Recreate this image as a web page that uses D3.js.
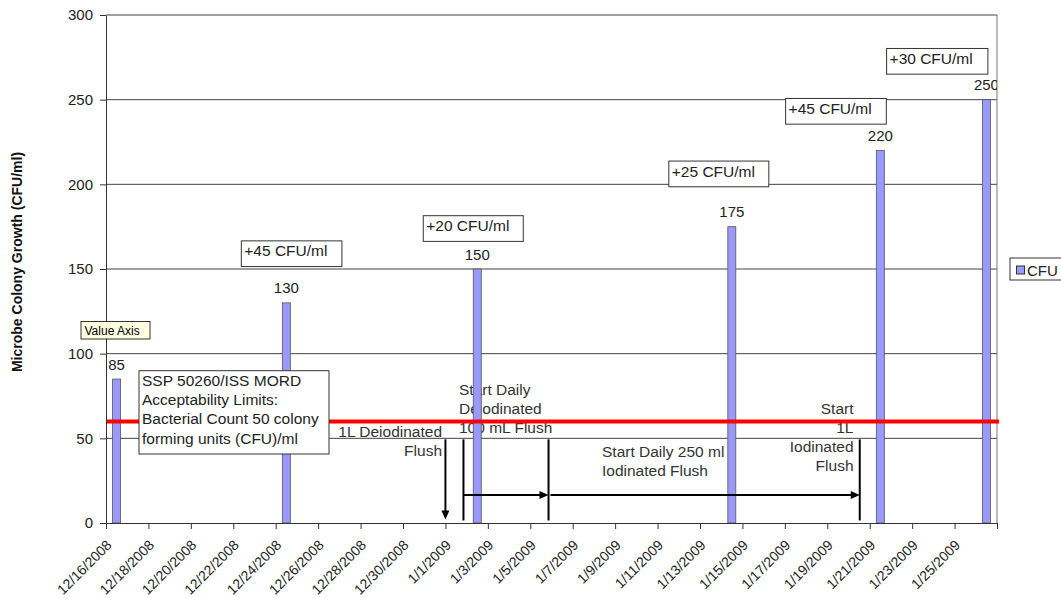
<!DOCTYPE html>
<html>
<head>
<meta charset="utf-8">
<script src="https://cdn.jsdelivr.net/npm/d3@7"></script>
<style>
  body { margin: 0; background: #fff; }
  text { font-family: "Liberation Sans", Arial, sans-serif; }
</style>
</head>
<body>
<script>
// chart values
var sampleDates = ["12/16/2008", "12/24/2008", "1/2/2009", "1/14/2009", "1/21/2009", "1/26/2009"];
var cfuValues = [85, 130, 150, 175, 220, 250];
var increments = [null, "+45 CFU/ml", "+20 CFU/ml", "+25 CFU/ml", "+45 CFU/ml", "+30 CFU/ml"];
var tickLabels = ["12/16/2008", "12/18/2008", "12/20/2008", "12/22/2008", "12/24/2008", "12/26/2008",
    "12/28/2008", "12/30/2008", "1/1/2009", "1/3/2009", "1/5/2009", "1/7/2009", "1/9/2009",
    "1/11/2009", "1/13/2009", "1/15/2009", "1/17/2009", "1/19/2009", "1/21/2009", "1/23/2009", "1/25/2009"];
var axisStart = "12/16/2008", axisEnd = "1/27/2009";
var yTicks = [0, 50, 100, 150, 200, 250, 300];
var limitValue = 60;
var limitText = ["SSP 50260/ISS MORD", "Acceptability Limits:", "Bacterial Count 50 colony", "forming units (CFU)/ml"];

var W = 1061, H = 598;
var margin = {left: 106, right: 64, top: 15, bottom: 75},
    width = W - margin.left - margin.right,
    height = H - margin.top - margin.bottom;

var parse = d3.utcParse("%m/%d/%Y");

var svg = d3.select("body").append("svg")
    .attr("width", W)
    .attr("height", H);

var g = svg.append("g")
    .attr("transform", "translate(" + margin.left + "," + margin.top + ")");

var x = d3.scaleUtc()
    .domain([parse(axisStart), parse(axisEnd)])
    .range([0, width]);

var y = d3.scaleLinear()
    .domain([0, 300])
    .range([height, 0]);

var day = x(d3.utcDay.offset(parse(axisStart), 1)) - x(parse(axisStart));
var dayX = function (n) { return x(parse(axisStart)) + n * day; };

svg.append("defs").append("clipPath").attr("id", "plotclip")
    .append("rect").attr("x", -1).attr("y", -20).attr("width", width + 1).attr("height", height + 20);

// gridlines
g.append("g").selectAll("line")
    .data(yTicks.slice(1))
    .enter().append("line")
    .attr("x1", 0).attr("x2", width)
    .attr("y1", function (d) { return y(d); })
    .attr("y2", function (d) { return y(d); })
    .attr("stroke", "#444")
    .attr("stroke-width", 1);

g.append("line")
    .attr("x1", width).attr("x2", width)
    .attr("y1", 0).attr("y2", height)
    .attr("stroke", "#777");

// free text annotations (drawn under bars)
var note = g.append("g")
    .attr("font-size", "15.5px")
    .attr("fill", "#333");

function lines(sel, arr, xx, y0, anchor) {
    arr.forEach(function (t, i) {
        sel.append("text")
            .attr("x", xx)
            .attr("y", y0 + i * 19)
            .attr("text-anchor", anchor)
            .text(t);
    });
}
lines(note, ["1L Deiodinated", "Flush"], 336, 422, "end");
lines(note, ["Start Daily", "Deiodinated", "100 mL Flush"], 353, 380, "start");
lines(note, ["Start Daily 250 ml", "Iodinated Flush"], 496, 442, "start");
lines(note, ["Start", "1L", "Iodinated", "Flush"], 747.5, 398.5, "end");

// bars
g.append("g").selectAll("rect")
    .data(cfuValues)
    .enter().append("rect")
    .attr("x", function (d, i) { return x(parse(sampleDates[i])) + day / 2 - 4; })
    .attr("width", 8)
    .attr("y", function (d) { return y(d); })
    .attr("height", function (d) { return height - y(d); })
    .attr("fill", "#9999ff")
    .attr("stroke", "#555")
    .attr("stroke-width", 0.8);

// data labels
g.append("g").attr("clip-path", "url(#plotclip)").selectAll("text")
    .data(cfuValues)
    .enter().append("text")
    .attr("x", function (d, i) { return x(parse(sampleDates[i])) + day / 2; })
    .attr("y", function (d) { return y(d) - 9.5; })
    .attr("text-anchor", "middle")
    .attr("font-size", "15px")
    .attr("fill", "#222")
    .text(function (d) { return d; });

// limit line
g.append("line")
    .attr("x1", 0).attr("x2", width + 2)
    .attr("y1", y(limitValue)).attr("y2", y(limitValue))
    .attr("stroke", "#ff0000")
    .attr("stroke-width", 4);

// flush markers and arrows
var ink = g.append("g").attr("stroke", "#000").attr("stroke-width", 2);
var arrowHead = function (px, py, dir) {
    var pts = dir === "down"
        ? [[px - 4, py - 9], [px + 4, py - 9], [px, py]]
        : [[px - 9, py - 4], [px - 9, py + 4], [px, py]];
    g.append("path").attr("d", d3.line()(pts) + "Z").attr("fill", "#000");
};
var yTop = y(50) + 1, yBot = y(2);
ink.append("line").attr("x1", dayX(16)).attr("x2", dayX(16)).attr("y1", yTop).attr("y2", yBot - 6);
arrowHead(dayX(16), yBot, "down");
[16.85, 20.86, 35.53].forEach(function (n) {
    ink.append("line").attr("x1", dayX(n)).attr("x2", dayX(n)).attr("y1", yTop).attr("y2", y(1.5));
});
ink.append("line").attr("x1", dayX(16.85)).attr("x2", dayX(20.86) - 6).attr("y1", y(16.5)).attr("y2", y(16.5));
arrowHead(dayX(20.86), y(16.5), "right");
ink.append("line").attr("x1", dayX(20.95)).attr("x2", dayX(35.53) - 6).attr("y1", y(16.5)).attr("y2", y(16.5));
arrowHead(dayX(35.53), y(16.5), "right");

// axes
var xAxis = g.append("g")
    .attr("transform", "translate(0," + height + ")")
    .call(d3.axisBottom(x)
        .tickValues(tickLabels.map(parse).concat([parse(axisEnd)]))
        .tickSize(6)
        .tickSizeOuter(0)
        .tickFormat(function (d, i) { return tickLabels[i] || ""; }));
xAxis.select(".domain").attr("stroke", "#333");
xAxis.selectAll(".tick line").attr("stroke", "#333");
xAxis.selectAll(".tick text")
    .attr("x", 0).attr("y", 0).attr("dy", null)
    .attr("transform", "translate(6,23) rotate(-45)")
    .style("text-anchor", "end")
    .attr("font-size", "14px")
    .attr("font-family", null)
    .attr("fill", "#222");

var yAxis = g.append("g")
    .call(d3.axisLeft(y).tickValues(yTicks).tickSize(6).tickSizeOuter(0).tickPadding(7));
yAxis.select(".domain").attr("stroke", "#333");
yAxis.selectAll(".tick line").attr("stroke", "#333");
yAxis.selectAll(".tick text")
    .attr("font-size", "15px")
    .attr("font-family", null)
    .attr("fill", "#222");

svg.append("text")
    .attr("transform", "translate(22," + (margin.top + height / 2 - 7) + ") rotate(-90)")
    .attr("text-anchor", "middle")
    .attr("font-size", "14px")
    .attr("font-weight", "bold")
    .attr("fill", "#111")
    .text("Microbe Colony Growth (CFU/ml)");

// boxed annotations
var boxes = g.append("g");
function box(bx, by, bw, bh, arr) {
    boxes.append("rect")
        .attr("x", bx).attr("y", by).attr("width", bw).attr("height", bh)
        .attr("fill", "#fff").attr("stroke", "#333").attr("stroke-width", 1);
    arr.forEach(function (t, i) {
        boxes.append("text")
            .attr("x", bx + 3).attr("y", by + 15.5 + i * 19.1)
            .attr("font-size", "15.5px").attr("fill", "#222")
            .text(t);
    });
}
box(33, 355.7, 190, 83.3, limitText);
var boxOffsets = [null, [-45, -62, 100.6], [-54, -53.3, 100], [-63, -65.6, 100], [-94.7, -52, 100.7], [-99.8, -51.2, 101.3]];
cfuValues.forEach(function (v, i) {
    if (!increments[i]) { return; }
    var cx = x(parse(sampleDates[i])) + day / 2, o = boxOffsets[i];
    box(cx + o[0], y(v) + o[1], o[2], 25.7, [increments[i]]);
});

// "Value Axis" tooltip
svg.append("rect").attr("x", 81).attr("y", 321.5).attr("width", 69).attr("height", 17.5)
    .attr("fill", "#ffffe1").attr("stroke", "#000").attr("stroke-width", 0.8);
svg.append("text").attr("x", 84.5).attr("y", 334.5)
    .attr("font-size", "12px").attr("fill", "#000").text("Value Axis");

// legend
var lg = svg.append("g").attr("transform", "translate(1010,258)");
lg.append("rect").attr("width", 60).attr("height", 22).attr("fill", "#fff").attr("stroke", "#333");
lg.append("rect").attr("x", 6.5).attr("y", 8).attr("width", 8).attr("height", 8)
    .attr("fill", "#9999ff").attr("stroke", "#333");
lg.append("text").attr("x", 17).attr("y", 17.5).attr("font-size", "15px").attr("fill", "#222").text("CFU");
</script>
</body>
</html>
